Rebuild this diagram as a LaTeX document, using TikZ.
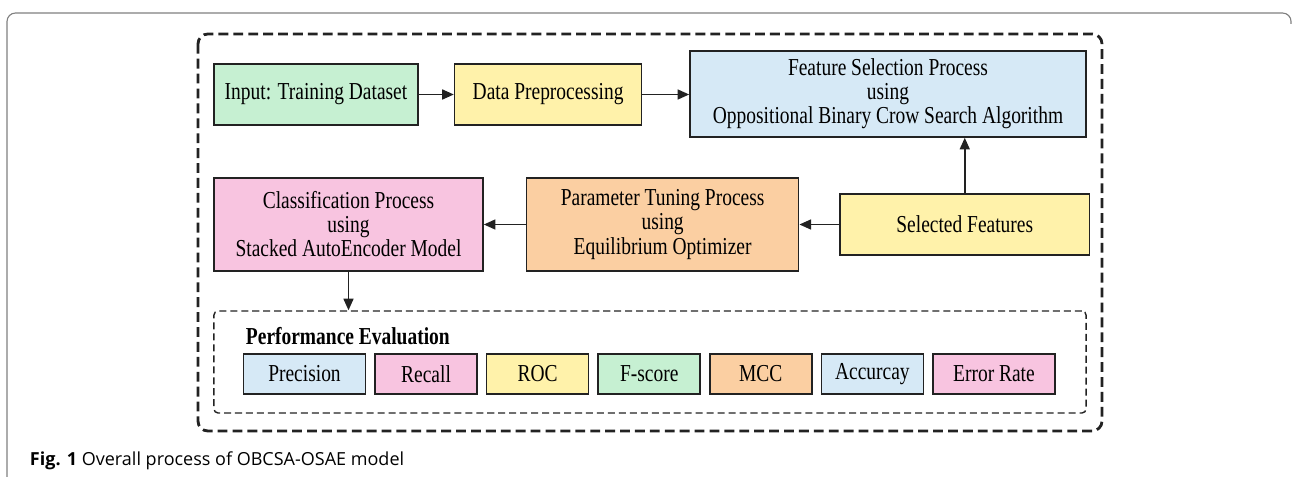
\documentclass[tikz,border=0pt]{standalone}
\usepackage{fontspec}
\setmainfont{Liberation Serif}[FakeStretch=0.8]
\newfontfamily\capfont{Open Sans}
\usetikzlibrary{positioning,arrows.meta}
\definecolor{boxgreen}{HTML}{C6F0D2}
\definecolor{boxyellow}{HTML}{FFF2AA}
\definecolor{boxblue}{HTML}{D6E9F6}
\definecolor{boxpink}{HTML}{F8C4E0}
\definecolor{boxorange}{HTML}{FBCFA2}
\definecolor{edgedark}{HTML}{222222}

\begin{document}
\begin{tikzpicture}[x=0.025cm, y=-0.025cm,
    blk/.style={draw=edgedark, line width=1.1pt, align=center, inner sep=0pt,
        font=\fontsize{17.3}{17.1}\selectfont},
    metric/.style={blk, minimum height=1cm, minimum width=2.55cm},
    flow/.style={-{Triangle[length=2.9mm,width=2.5mm]}, line width=1.1pt, draw=edgedark}]
    \useasboundingbox (0,0) rectangle (1292,477);

    \draw[gray, line width=0.8pt, rounded corners=6pt] (7,478) -- (7,13) -- (1291,13) -- (1291,24);
    \draw[edgedark, line width=2pt, dash pattern=on 7pt off 3.6pt, rounded corners=7pt] (198,34) rectangle (1102,431);

    \node[blk, fill=boxgreen, minimum width=5.1cm, minimum height=1.525cm] (inp) at (316,94.5) {Input: Training Dataset};
    \node[blk, fill=boxyellow, minimum width=4.675cm, minimum height=1.525cm, right=0.875cm of inp] (prep) {Data Preprocessing};
    \node[blk, fill=boxblue, minimum width=9.9cm, minimum height=2.15cm] (feat) at (888,94) {Feature Selection Process\\using\\Oppositional Binary Crow Search Algorithm};

    \node[blk, fill=boxpink, minimum width=6.725cm, minimum height=2.325cm] (cls) at (348.5,224.5) {Classification Process\\using\\Stacked AutoEncoder Model};
    \node[blk, fill=boxorange, minimum width=6.8cm, minimum height=2.325cm, right=1.05cm of cls] (tune) {Parameter Tuning Process\\using\\Equilibrium Optimizer};
    \node[blk, fill=boxyellow, minimum width=6.225cm, minimum height=1.525cm, right=1cm of tune] (sel) {Selected Features};

    \node[draw=edgedark, line width=1pt, dash pattern=on 5pt off 2.8pt, rounded corners=3pt,
        minimum width=21.8cm, minimum height=2.55cm] (perf) at (650,362) {};
    \node[anchor=west, font=\fontsize{17.3}{17.1}\selectfont\bfseries] (perftitle) at (241,336) {Performance Evaluation};

    \node[metric, fill=boxblue, minimum width=3.05cm] (prec) at (304.5,374) {Precision};
    \node[metric, fill=boxpink, right=0.2cm of prec] (rec) {Recall};
    \node[metric, fill=boxyellow, right=0.2cm of rec] (roc) {ROC};
    \node[metric, fill=boxgreen, right=0.2cm of roc] (fsc) {F-score};
    \node[metric, fill=boxorange, right=0.2cm of fsc] (mcc) {MCC};
    \node[metric, fill=boxblue, right=0.2cm of mcc] (acc) {Accurcay};
    \node[metric, fill=boxpink, minimum width=3.05cm, right=0.2cm of acc] (err) {Error Rate};

    \draw[flow] (inp) -- (prep);
    \draw[flow] (prep.east) -- (prep.east -| feat.west);
    \draw[flow] (sel.north) -- (sel.north |- feat.south);
    \draw[flow] (sel) -- (tune);
    \draw[flow] (tune) -- (cls);
    \draw[flow] (cls.south) -- (cls.south |- perf.north);

    \node[anchor=base west, font=\capfont\fontsize{12.8}{14}\selectfont] (cap) at (25,465) {\textbf{Fig. 1} Overall process of OBCSA-OSAE model};
\end{tikzpicture}
\end{document}
